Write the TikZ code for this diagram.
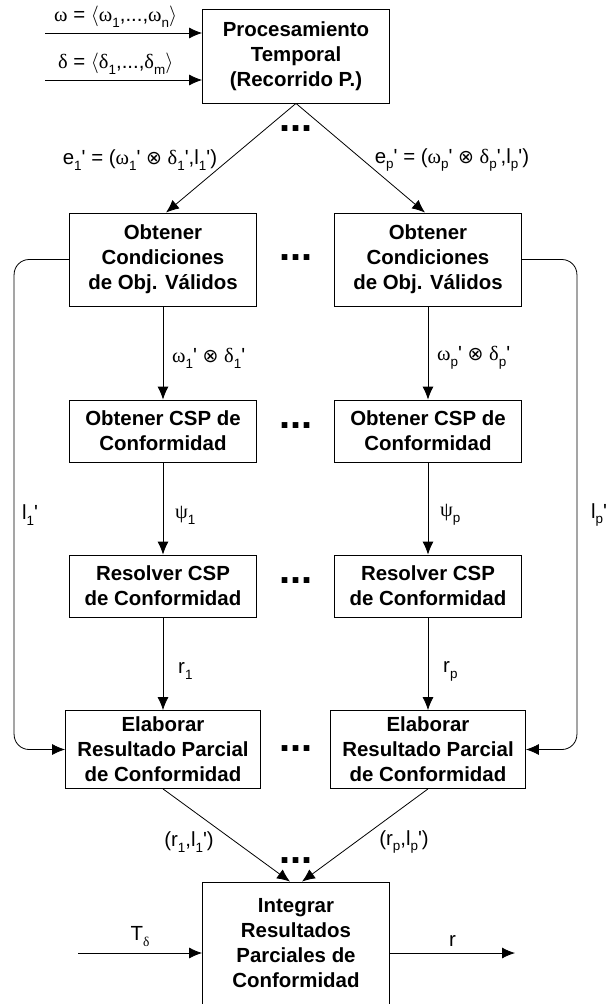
\documentclass[tikz,border=0pt]{standalone}
\usepackage{fontspec}
\setmainfont{Liberation Sans}
\newfontfamily\grk{Liberation Serif}
\newfontfamily\sym{DejaVu Sans}
\usetikzlibrary{positioning,arrows.meta}
\newcommand\sbs[1]{\raisebox{-.55ex}{\fontsize{13.5}{13.5}\selectfont#1}}
\newcommand\pr{\textquotesingle}
\newcommand\om{{\grk ω}}
\newcommand\de{{\grk δ}}
\newcommand\ps{{\grk ψ}}
\newcommand\ot{{\sym\fontsize{19}{19}\selectfont ⊗}}
\begin{document}
\begin{tikzpicture}[x=1bp,y=-1bp,>={Latex[length=13bp,width=11bp]},
	box/.style={draw,line width=.8bp,align=center,inner sep=0pt,minimum width=187bp,
		font=\fontsize{20.5}{25}\selectfont\bfseries},
	lbl/.style={font=\fontsize{20.5}{24}\selectfont,inner sep=0pt},
	ellip/.style={font=\fontsize{40}{40}\selectfont\bfseries,inner sep=0pt,anchor=base},
	flow/.style={->,line width=.8bp}]
	\useasboundingbox (0,0) rectangle (606,1004);
	\path
		(296,56) node[box,minimum height=94bp] (proc) {Procesamiento\\Temporal\\(Recorrido P.)}
		(163,259.5) node[box,minimum height=93bp] (cond1) {Obtener\\Condiciones\\de Obj. Válidos}
		(428,259.5) node[box,minimum height=93bp] (condp) {Obtener\\Condiciones\\de Obj. Válidos}
		(163,431) node[box,minimum height=62bp] (csp1) {Obtener CSP de\\Conformidad}
		(428,431) node[box,minimum height=62bp] (cspp) {Obtener CSP de\\Conformidad}
		(163,586) node[box,minimum height=62bp] (res1) {Resolver CSP\\de Conformidad}
		(428,586) node[box,minimum height=62bp] (resp) {Resolver CSP\\de Conformidad}
		(163,749.5) node[box,minimum height=78bp,minimum width=195bp] (elab1) {Elaborar\\Resultado Parcial\\de Conformidad}
		(428,749.5) node[box,minimum height=78bp,minimum width=195bp] (elabp) {Elaborar\\Resultado Parcial\\de Conformidad}
		(296,943) node[box,minimum height=122bp] (integ) {Integrar\\Resultados\\Parciales de\\Conformidad}
	;
	% puntos suspensivos
	\foreach \y in {131,260,428,583,751,863}
		\node[ellip] at (296,\y) {...};
	% entradas
	\coordinate (win) at (45,33);
	\coordinate (din) at (45,80);
	\coordinate (tin) at (78,953);
	\coordinate (rout) at (515,953);
	\draw[flow] (win) -- (win -| proc.west) node[lbl,pos=.45,above=5bp] {\om\ = $\langle$\om\sbs{1},...,\om\sbs{n}$\rangle$};
	\draw[flow] (din) -- (din -| proc.west) node[lbl,pos=.45,above=5bp] {\de\ = $\langle$\de\sbs{1},...,\de\sbs{m}$\rangle$};
	% reparto
	\draw[flow] (proc.south) -- ([xshift=3bp]cond1.north);
	\draw[flow] (proc.south) -- ([xshift=-3bp]condp.north);
	\node[lbl] at (140,160) {e\sbs{1}\pr\ = (\om\sbs{1}\pr\ \ot\ \de\sbs{1}\pr,l\sbs{1}\pr)};
	\node[lbl] at (452,160) {e\sbs{p}\pr\ = (\om\sbs{p}\pr\ \ot\ \de\sbs{p}\pr,l\sbs{p}\pr)};
	% columnas
	\foreach \c in {1,p}{
		\draw[flow] (cond\c) -- (csp\c);
		\draw[flow] (csp\c) -- (res\c);
		\draw[flow] (res\c) -- (elab\c);
	}
	\node[lbl,anchor=west] at (172,358) {\om\sbs{1}\pr\ \ot\ \de\sbs{1}\pr};
	\node[lbl,anchor=west] at (437,358) {\om\sbs{p}\pr\ \ot\ \de\sbs{p}\pr};
	\node[lbl,anchor=west] at (175,515) {\ps\sbs{1}};
	\node[lbl,anchor=west] at (440,515) {\ps\sbs{p}};
	\node[lbl,anchor=west] at (178,671) {r\sbs{1}};
	\node[lbl,anchor=west] at (443,671) {r\sbs{p}};
	\draw[flow,rounded corners=15bp] (cond1.west) -- ++(-55,0) |- (elab1.west);
	\draw[flow,rounded corners=15bp] (condp.east) -- ++(55,0) |- (elabp.east);
	\node[lbl] at (30,515) {l\sbs{1}\pr};
	\node[lbl] at (599,515) {l\sbs{p}\pr};
	% integracion
	\draw[flow] (elab1.south) -- ([xshift=-6bp]integ.north);
	\draw[flow] (elabp.south) -- ([xshift=6bp]integ.north);
	\node[lbl] at (189,842) {(r\sbs{1},l\sbs{1}\pr)};
	\node[lbl] at (404,842) {(r\sbs{p},l\sbs{p}\pr)};
	\draw[flow] (tin) -- (tin -| integ.west) node[lbl,midway,above=6bp] {T\sbs{\de}};
	\draw[flow] (integ.east |- rout) -- (rout) node[lbl,midway,above=6bp] {r};
\end{tikzpicture}
\end{document}
